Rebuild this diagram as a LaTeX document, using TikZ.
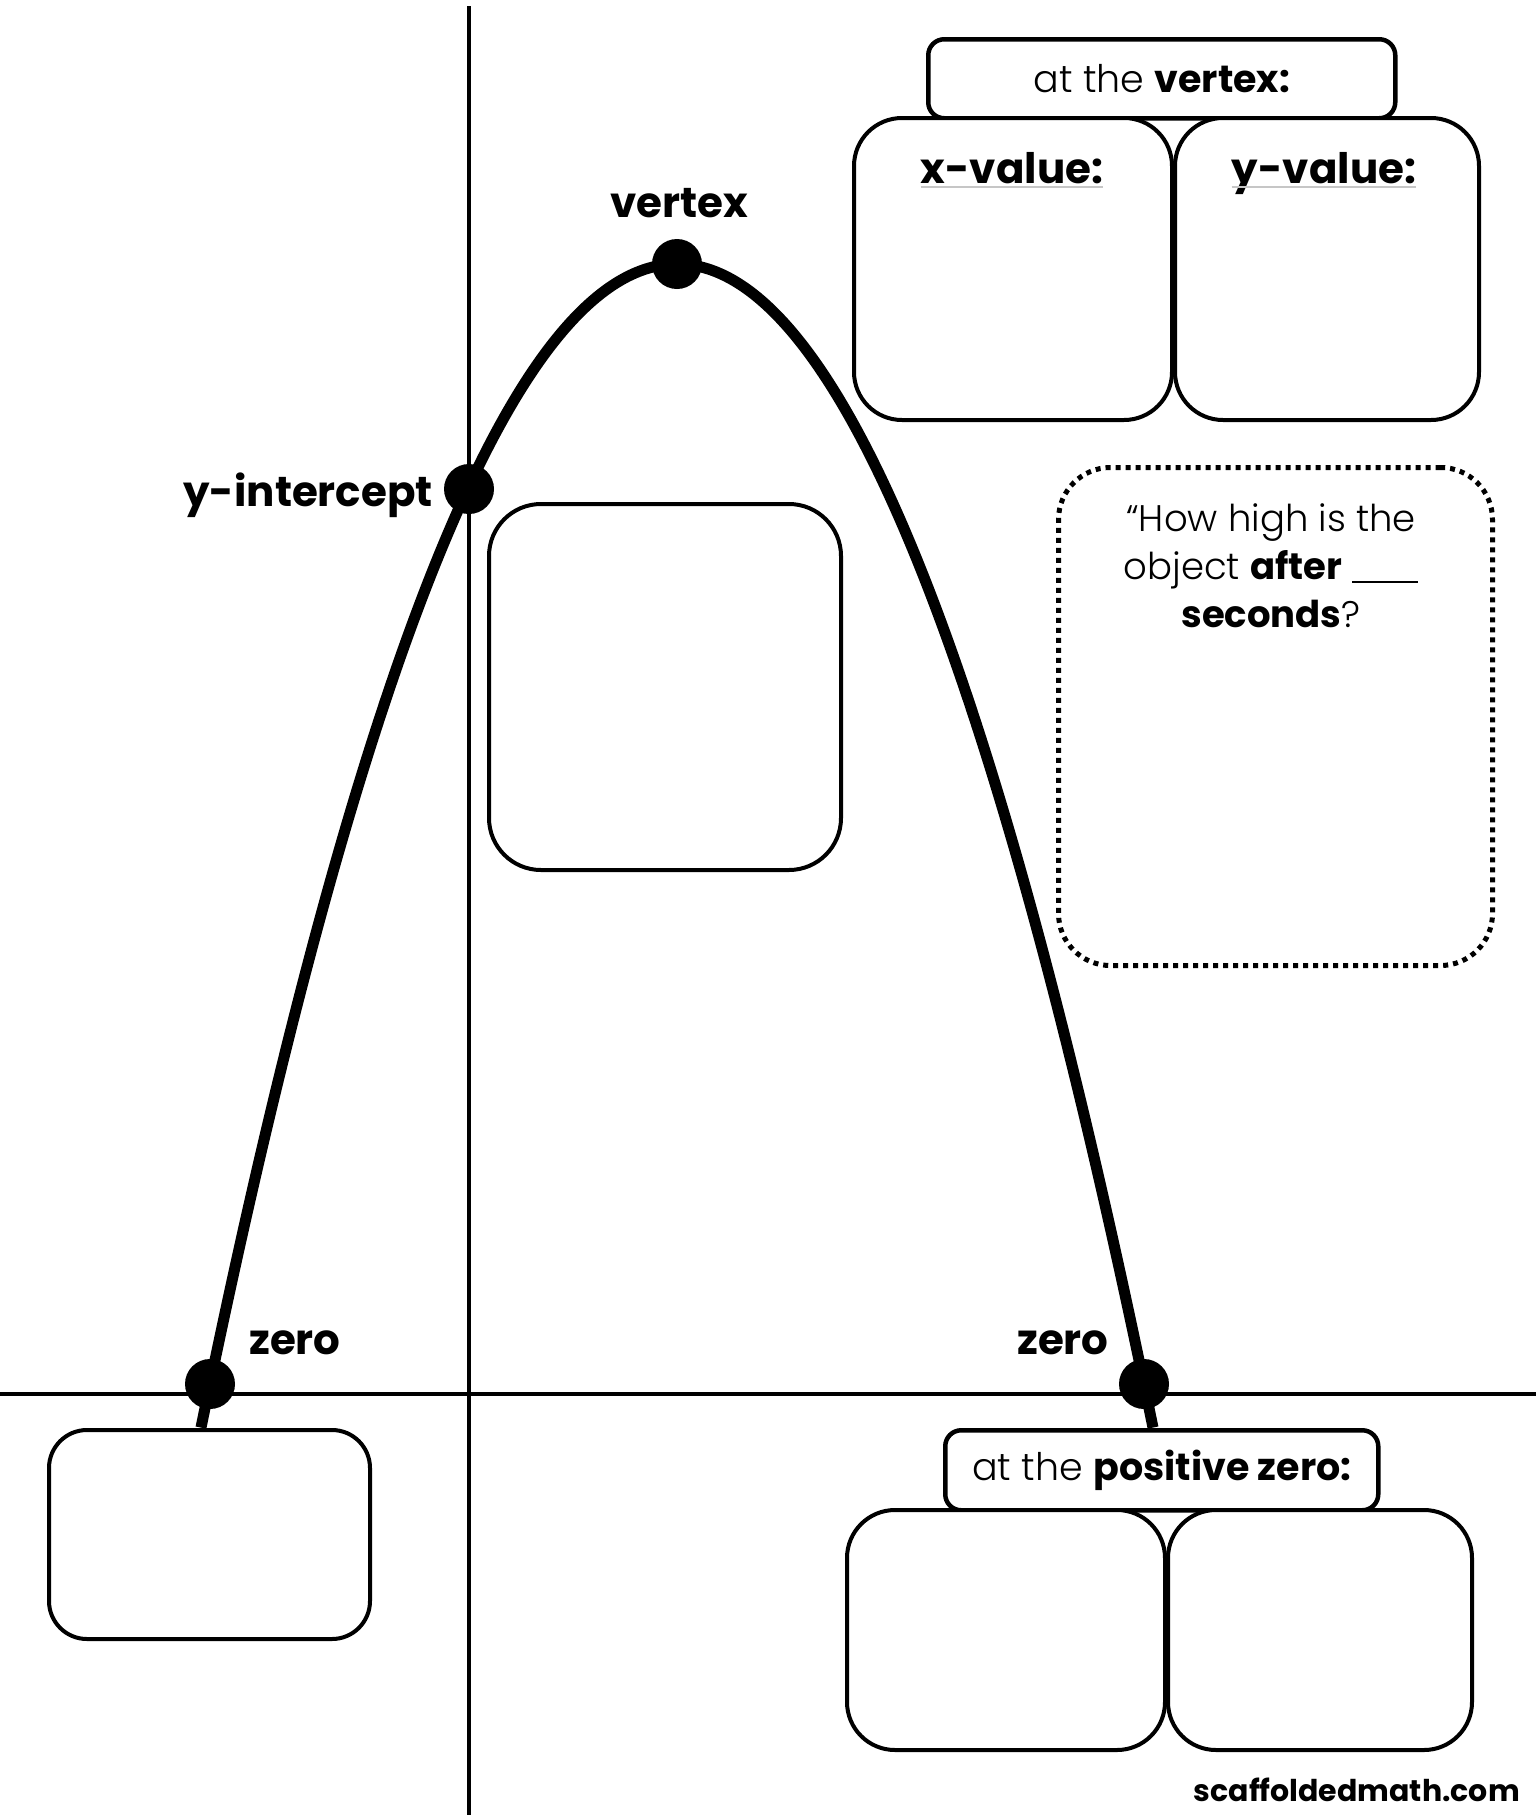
\documentclass[tikz,border=0pt]{standalone}
\usepackage{fontspec}
\setmainfont{Poppins}
\newfontfamily\thinfont{Poppins Light}
\begin{document}
\begin{tikzpicture}[x=1pt,y=-1pt,
  axisline/.style={line width=4pt},
  curveline/.style={line width=11pt},
  dotnode/.style={circle, fill=black, inner sep=0pt, minimum size=50pt},
  boxnode/.style={draw, line width=4pt, fill=white, rounded corners=48pt, inner sep=0pt, anchor=north west},
  hdrnode/.style={draw, line width=4.5pt, fill=white, rounded corners=16pt, inner sep=0pt, anchor=north west},
  dotbox/.style={draw, line width=5pt, dash pattern=on 5pt off 5pt, fill=white, rounded corners=52pt, inner sep=0pt, anchor=north west},
  biglbl/.style={font=\fontsize{42}{50}\selectfont\bfseries, inner sep=0pt},
  hdrtxt/.style={font=\fontsize{38}{46}\selectfont\thinfont, inner sep=0pt},
  qtxt/.style={font=\fontsize{37}{48}\selectfont\thinfont, align=center, inner sep=0pt},
  vallbl/.style={font=\fontsize{42}{50}\selectfont\bfseries, inner sep=0pt, anchor=base}
]
\useasboundingbox (0,0) rectangle (1536,1815);
\fill[white] (0,0) rectangle (1536,1815);

% axes
\coordinate (ytop) at (469,6);
\coordinate (ybot) at (469,1815);
\coordinate (xl) at (0,1394);
\coordinate (xr) at (1536,1394);
\draw[axisline] (ytop) -- (ybot);
\draw[axisline] (xl) -- (xr);

% parabola
\draw[curveline] plot[domain=-476:476, samples=200, smooth] ({677+\x}, {264+1120*(\x/467)*(\x/467)});

% points
\node[dotnode] (V) at (677,264) {};
\node[dotnode] (Y) at (469,489) {};
\node[dotnode] (Z1) at (210,1384) {};
\node[dotnode] (Z2) at (1144,1384) {};

% point labels
\node[biglbl] (Vl) at (679,203) {vertex};
\node[biglbl, anchor=east] (Yl) at (433,495) {y-intercept};
\node[biglbl] (Z1l) at (295,1343) {zero};
\node[biglbl] (Z2l) at (1063,1343) {zero};

% vertex boxes
\node[hdrnode, minimum width=467pt, minimum height=79pt] (vh) at (926,37) {};
\node[boxnode, minimum width=318pt, minimum height=302pt] (xv) at (852,116) {};
\node[boxnode, minimum width=304pt, minimum height=302pt] (yv) at (1173,116) {};
\node[hdrtxt] (vht) at (vh.center) {at the {\bfseries\normalfont\bfseries vertex:}};
\node[vallbl] (xvt) at (1012,183) {x-value:};
\node[vallbl] (yvt) at (1324,183) {y-value:};
\draw[gray!45, line width=2pt] ([yshift=-4pt]xvt.base west) -- ([yshift=-4pt]xvt.base east);
\draw[gray!45, line width=2pt] ([yshift=-4pt]yvt.base west) -- ([yshift=-4pt]yvt.base east);

% middle box
\node[boxnode, minimum width=352pt, minimum height=366pt, rounded corners=52pt] (mid) at (487,502) {};

% dotted box
\node[dotbox, minimum width=434pt, minimum height=498pt] (q) at (1056,465) {};
\node[qtxt, anchor=north] (qt) at (1271,503) {\textquotedblleft How high is the\\object {\normalfont\bfseries after} \rule[-4pt]{66pt}{2.5pt}\\{\normalfont\bfseries seconds}?};

% zero box
\node[boxnode, minimum width=321pt, minimum height=209pt, rounded corners=38pt] (zb) at (47,1428) {};

% positive zero boxes
\node[hdrnode, minimum width=433pt, minimum height=80pt] (ph) at (943,1428) {};
\node[boxnode, minimum width=318pt, minimum height=240pt] (p1) at (845,1508) {};
\node[boxnode, minimum width=304pt, minimum height=240pt] (p2) at (1166,1508) {};
\node[hdrtxt] (pht) at (ph.center) {at the {\normalfont\bfseries positive zero:}};

% footer
\node[font=\fontsize{30}{36}\selectfont\bfseries, anchor=east, inner sep=0pt] (ft) at (1520,1790) {scaffoldedmath.com};
\end{tikzpicture}
\end{document}
